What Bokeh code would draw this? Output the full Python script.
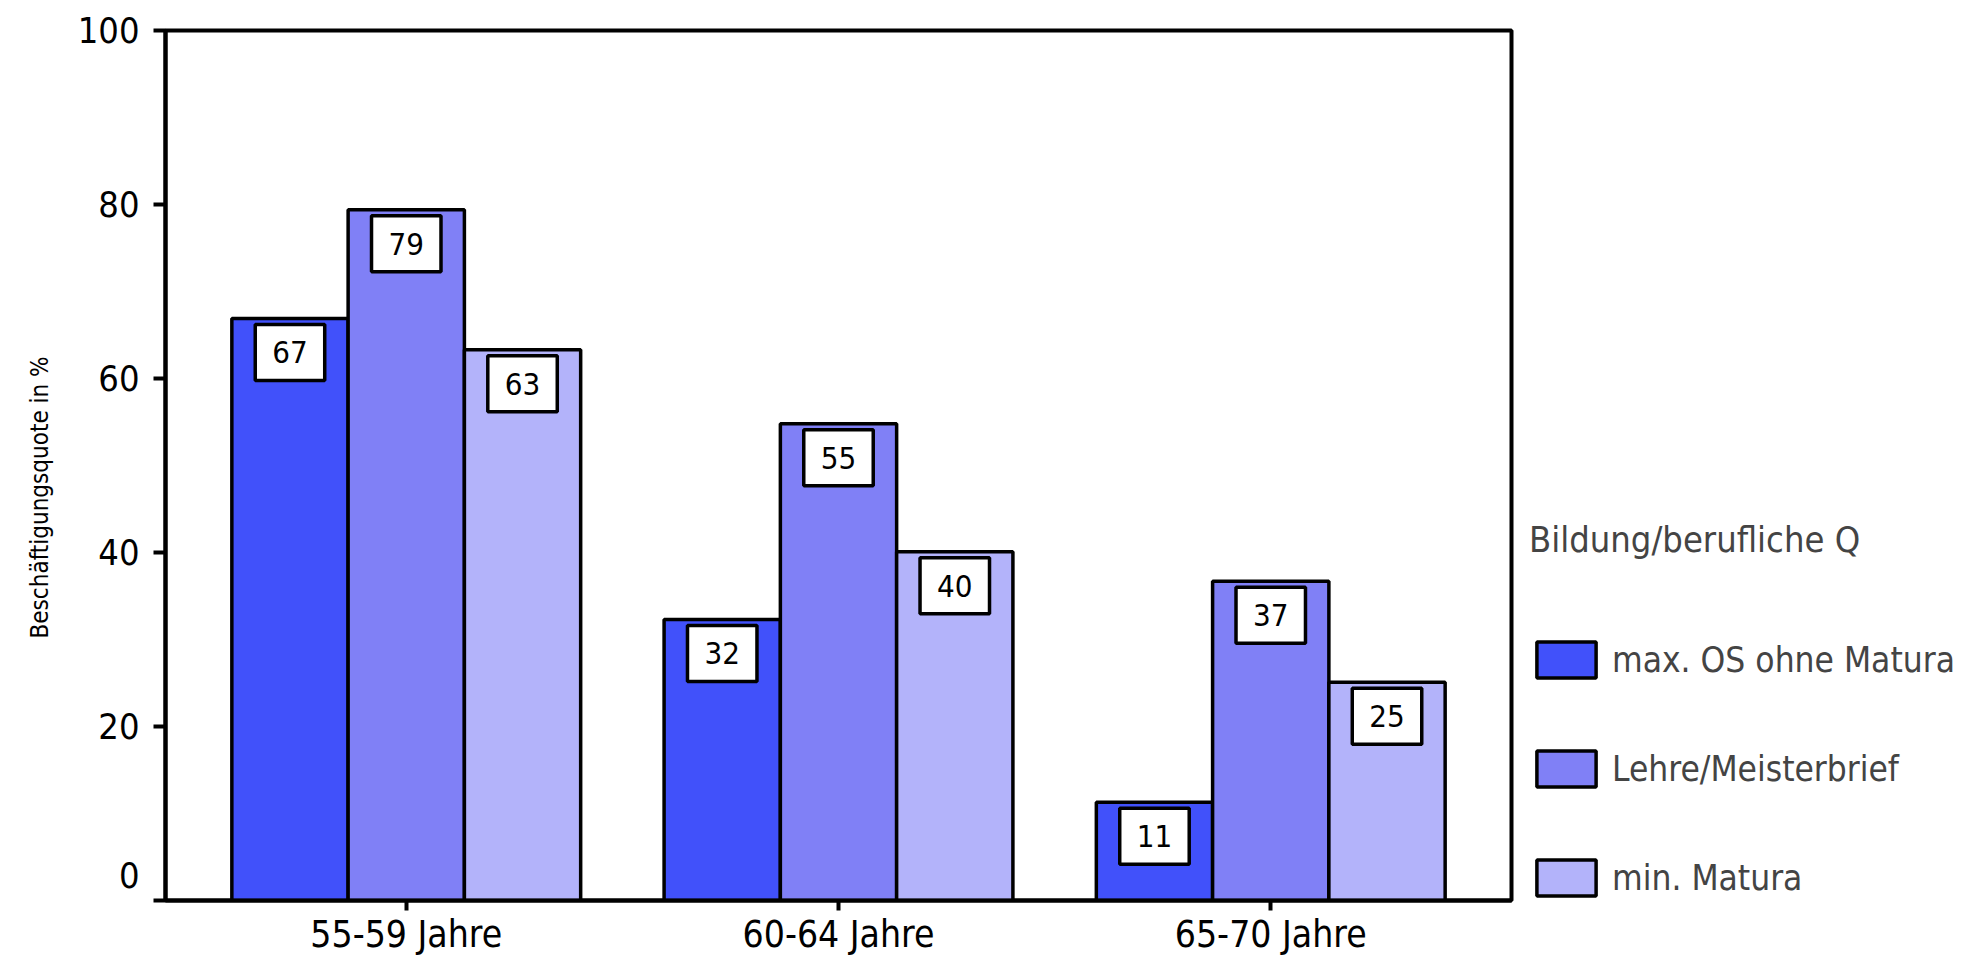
from bokeh.plotting import figure
from bokeh.models import FactorRange, Range1d, Legend, LegendItem, ColumnDataSource, FixedTicker, Title
from bokeh.transform import dodge
from bokeh.core.properties import value
from bokeh.embed import file_html
from bokeh.resources import INLINE

# ---- data ----
groups = ["55-59 Jahre", "60-64 Jahre", "65-70 Jahre"]
series_names = ["max. OS ohne Matura", "Lehre/Meisterbrief", "min. Matura"]
max_os = [66.9, 32.3, 11.3]
lehre = [79.4, 54.8, 36.7]
matura = [63.3, 40.1, 25.1]
max_os_labels = ["67", "32", "11"]
lehre_labels = ["79", "55", "37"]
matura_labels = ["63", "40", "25"]
y_ticks = [0, 20, 40, 60, 80, 100]
y_title = "Beschäftigungsquote in %"
legend_title = "Bildung/berufliche Q"
colors = ["#4151FA", "#8080F6", "#B3B3FA"]

FONT = "DejaVu Sans Condensed, Liberation Sans, sans-serif"

source = ColumnDataSource(dict(
    groups=groups,
    max_os=max_os, lehre=lehre, matura=matura,
    max_os_lab=max_os_labels, lehre_lab=lehre_labels, matura_lab=matura_labels,
))

p = figure(
    x_range=FactorRange(factors=groups, range_padding=0.057, range_padding_units="absolute"),
    y_range=Range1d(0, 100),
    frame_width=1346, frame_height=870,
    min_border_left=165, min_border_right=457, min_border_top=30, min_border_bottom=40,
    output_backend="svg", toolbar_location=None, tools="",
    background_fill_color="white", border_fill_color="white",
)

bw = 0.269
cols = ["max_os", "lehre", "matura"]
offsets = [-bw, 0.0, bw]
renderers = []
for col, off, c in zip(cols, offsets, colors):
    r = p.vbar(x=dodge("groups", off, range=p.x_range), top=col, width=bw, source=source,
               fill_color=c, line_color="black", line_width=3.5)
    renderers.append(r)

for col, off in zip(cols, offsets):
    p.text(x=dodge("groups", off, range=p.x_range), y=col, text=col + "_lab", source=source,
           text_align="center", text_baseline="top", y_offset=6,
           text_font=value(FONT), text_font_size="31px", text_color="black",
           background_fill_color="white", border_line_color="black", border_line_width=3.5,
           padding=dict(left=17, right=17, top=17, bottom=17))

p.xgrid.visible = False
p.ygrid.visible = False
p.outline_line_color = "black"
p.outline_line_width = 4

for ax in (p.xaxis[0], p.yaxis[0]):
    ax.axis_line_width = 4
    ax.axis_line_color = "black"
    ax.major_tick_line_width = 4
    ax.major_tick_line_color = "black"
    ax.major_tick_in = 0
    ax.minor_tick_out = 0
    ax.minor_tick_in = 0
    ax.major_label_text_font = FONT
    ax.major_label_text_color = "black"

p.xaxis.major_tick_out = 10
p.xaxis.major_label_standoff = 2
p.xaxis.major_label_text_font_size = "37px"

p.yaxis.ticker = FixedTicker(ticks=y_ticks)
p.yaxis.major_tick_out = 12
p.yaxis.major_label_standoff = 14
p.yaxis.major_label_text_font_size = "36px"
p.yaxis.major_label_overrides = {0: "0\n"}

ytitle = Title(text=y_title, align="left", offset=262, standoff=40, vertical_align="middle",
               text_font=FONT, text_font_size="24px", text_font_style="normal",
               text_color="black")
p.add_layout(ytitle, "left")

legend = Legend(
    items=[LegendItem(label=n, renderers=[r]) for n, r in zip(series_names, renderers)],
    title=legend_title,
    location=(18, 0),
    padding=0, margin=0,
    border_line_color=None, background_fill_alpha=0,
    glyph_width=74, glyph_height=45, label_height=45,
    label_standoff=9, spacing=64, title_standoff=77,
    label_text_font=FONT, label_text_font_size="35px",
    title_text_font=FONT, title_text_font_size="36px", title_text_font_style="normal",
)
p.add_layout(legend, "right")

open("out.html", "w").write(file_html(p, INLINE))
